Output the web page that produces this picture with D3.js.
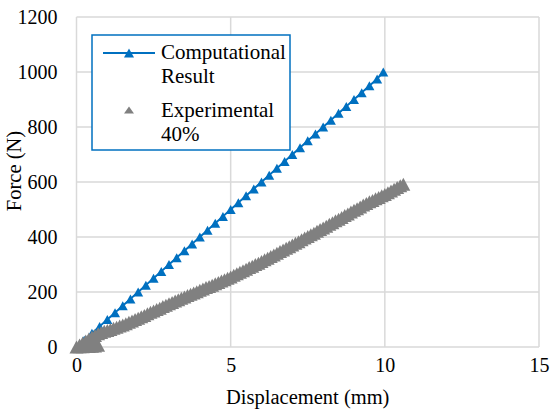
<!DOCTYPE html>
<html>
<head>
<meta charset="utf-8">
<script src="https://cdn.jsdelivr.net/npm/d3@7"></script>
<style>
  body { margin: 0; background: #fff; }
</style>
</head>
<body>
<div id="chart"></div>
<script>
"use strict";

// computational result (blue line + triangles)
const compDisp = [0, 0.25, 0.5, 0.75, 1, 1.25, 1.5, 1.75, 2, 2.25, 2.5, 2.75, 3, 3.25, 3.5, 3.75,
  4, 4.25, 4.5, 4.75, 5, 5.25, 5.5, 5.75, 6, 6.25, 6.5, 6.75, 7, 7.25, 7.5, 7.75,
  8, 8.25, 8.5, 8.75, 9, 9.25, 9.5, 9.75, 9.95];
const compForce = [0, 25, 50, 75, 100, 125, 150, 175, 200, 225, 250, 275, 300, 325, 350, 375,
  400, 425, 450, 475, 500, 525, 550, 575, 600, 625, 650, 675, 700, 725, 750, 775,
  800, 825, 850, 875, 900, 925, 950, 975, 1000];

// experimental 40% (dense grey triangles)
const expDisp = [0, 0.1, 0.2, 0.3, 0.4, 0.5, 0.6, 0.7, 0.8, 0.9,
  1.0, 1.1, 1.2, 1.3, 1.4, 1.5, 1.6, 1.7, 1.8, 1.9,
  2.0, 2.1, 2.2, 2.3, 2.4, 2.5, 2.6, 2.7, 2.8, 2.9,
  3.0, 3.1, 3.2, 3.3, 3.4, 3.5, 3.6, 3.7, 3.8, 3.9,
  4.0, 4.1, 4.2, 4.3, 4.4, 4.5, 4.6, 4.7, 4.8, 4.9,
  5.0, 5.1, 5.2, 5.3, 5.4, 5.5, 5.6, 5.7, 5.8, 5.9,
  6.0, 6.1, 6.2, 6.3, 6.4, 6.5, 6.6, 6.7, 6.8, 6.9,
  7.0, 7.1, 7.2, 7.3, 7.4, 7.5, 7.6, 7.7, 7.8, 7.9,
  8.0, 8.1, 8.2, 8.3, 8.4, 8.5, 8.6, 8.7, 8.8, 8.9,
  9.0, 9.1, 9.2, 9.3, 9.4, 9.5, 9.6, 9.7, 9.8, 9.9,
  10.0, 10.1, 10.2, 10.3, 10.4, 10.5, 10.6,
  0.1, 0.2, 0.3, 0.4, 0.5, 0.6, 0.7];
const expForce = [0, 7, 15, 22, 29, 36, 42, 48, 53, 57,
  60, 64, 68, 72, 76, 80, 85, 90, 95, 100,
  105, 110, 115, 121, 126, 131, 136, 141, 147, 152,
  157, 162, 167, 172, 177, 182, 187, 192, 196, 201,
  206, 211, 216, 220, 225, 230, 235, 240, 245, 250,
  255, 261, 266, 272, 277, 283, 289, 294, 300, 305,
  311, 317, 323, 329, 335, 341, 347, 353, 359, 365,
  371, 377, 383, 390, 396, 402, 408, 414, 421, 427,
  433, 439, 446, 452, 459, 465, 471, 478, 484, 491,
  497, 503, 509, 516, 522, 528, 533, 539, 544, 550,
  555, 561, 567, 574, 580, 586, 592,
  1, 1, 2, 2, 3, 4, 6];

const xTicks = [0, 5, 10, 15];
const yTicks = [0, 200, 400, 600, 800, 1000, 1200];
const seriesNames = [["Computational", "Result"], ["Experimental", "40%"]];

const blue = "#0070c0", grey = "#808080", gridColor = "#d9d9d9";
const serif = "'Liberation Serif', 'Times New Roman', serif";

const width = 550, height = 410;
const margin = { left: 76.5, top: 17, right: 11, bottom: 63 };

const svg = d3.select("#chart")
  .append("svg")
    .attr("width", width)
    .attr("height", height)
    .style("font-family", serif);

const x = d3.scaleLinear().domain([0, 15]).range([margin.left, width - margin.right]);
const y = d3.scaleLinear().domain([0, 1200]).range([height - margin.bottom, margin.top]);

// triangle marker path centred on 0,0
function tri(w, h) {
  return "M0," + (-h / 2) + "L" + (w / 2) + "," + (h / 2) + "L" + (-w / 2) + "," + (h / 2) + "Z";
}

// gridlines
const grid = svg.append("g");
grid.selectAll(".hgrid")
  .data(yTicks)
  .join("line")
    .attr("x1", x(0)).attr("x2", x(15))
    .attr("y1", d => y(d)).attr("y2", d => y(d))
    .attr("stroke", gridColor).attr("stroke-width", 1.5);
grid.selectAll(".vgrid")
  .data(xTicks)
  .join("line")
    .attr("y1", y(0)).attr("y2", y(1200))
    .attr("x1", d => x(d)).attr("x2", d => x(d))
    .attr("stroke", gridColor).attr("stroke-width", 1.5);

// axes (labels only, Excel style)
const xAxis = svg.append("g")
  .attr("transform", "translate(0," + y(0) + ")")
  .call(d3.axisBottom(x).tickValues(xTicks).tickFormat(d3.format("d")).tickSize(0).tickPadding(11));
const yAxis = svg.append("g")
  .attr("transform", "translate(" + (x(0) - 19) + ",0)")
  .call(d3.axisLeft(y).tickValues(yTicks).tickFormat(d3.format("d")).tickSize(0).tickPadding(0));
[xAxis, yAxis].forEach(function(a) {
  a.attr("font-family", null).attr("font-size", 20);
  a.select(".domain").remove();
  a.selectAll("text").attr("fill", "#000").style("font-family", serif);
});

// computational line + markers
const compData = compDisp.map((d, i) => [d, compForce[i]]);
svg.append("path")
  .datum(compData)
  .attr("fill", "none")
  .attr("stroke", blue)
  .attr("stroke-width", 2)
  .attr("d", d3.line().x(d => x(d[0])).y(d => y(d[1])));
svg.append("g")
  .selectAll("path")
  .data(compData)
  .join("path")
    .attr("d", tri(10, 9))
    .attr("transform", d => "translate(" + x(d[0]) + "," + y(d[1]) + ")")
    .attr("fill", blue);

// experimental markers (drawn on top)
svg.append("g")
  .selectAll("path")
  .data(expDisp.map((d, i) => [d, expForce[i]]))
  .join("path")
    .attr("d", tri(14, 13))
    .attr("transform", d => "translate(" + x(d[0]) + "," + y(d[1]) + ")")
    .attr("fill", grey);

// axis titles
svg.append("text")
  .attr("x", x(7.5))
  .attr("y", 404)
  .attr("text-anchor", "middle")
  .attr("font-size", 20.5)
  .text("Displacement (mm)");
svg.append("text")
  .attr("transform", "translate(21," + y(640) + ") rotate(-90)")
  .attr("text-anchor", "middle")
  .attr("font-size", 20.5)
  .text("Force (N)");

// legend
const legend = svg.append("g");
legend.append("rect")
  .attr("x", 92).attr("y", 35)
  .attr("width", 198).attr("height", 115)
  .attr("fill", "#fff")
  .attr("stroke", blue).attr("stroke-width", 1.5);
legend.append("line")
  .attr("x1", 103).attr("x2", 155)
  .attr("y1", 53).attr("y2", 53)
  .attr("stroke", blue).attr("stroke-width", 2);
legend.append("path")
  .attr("d", tri(10, 9))
  .attr("transform", "translate(129,53)")
  .attr("fill", blue);
legend.append("path")
  .attr("d", tri(10, 7))
  .attr("transform", "translate(129,110)")
  .attr("fill", grey);
seriesNames.forEach(function(lines, i) {
  lines.forEach(function(t, j) {
    legend.append("text")
      .attr("x", 161)
      .attr("y", 59 + i * 58 + j * 24)
      .attr("font-size", 21)
      .text(t);
  });
});
</script>
</body>
</html>
